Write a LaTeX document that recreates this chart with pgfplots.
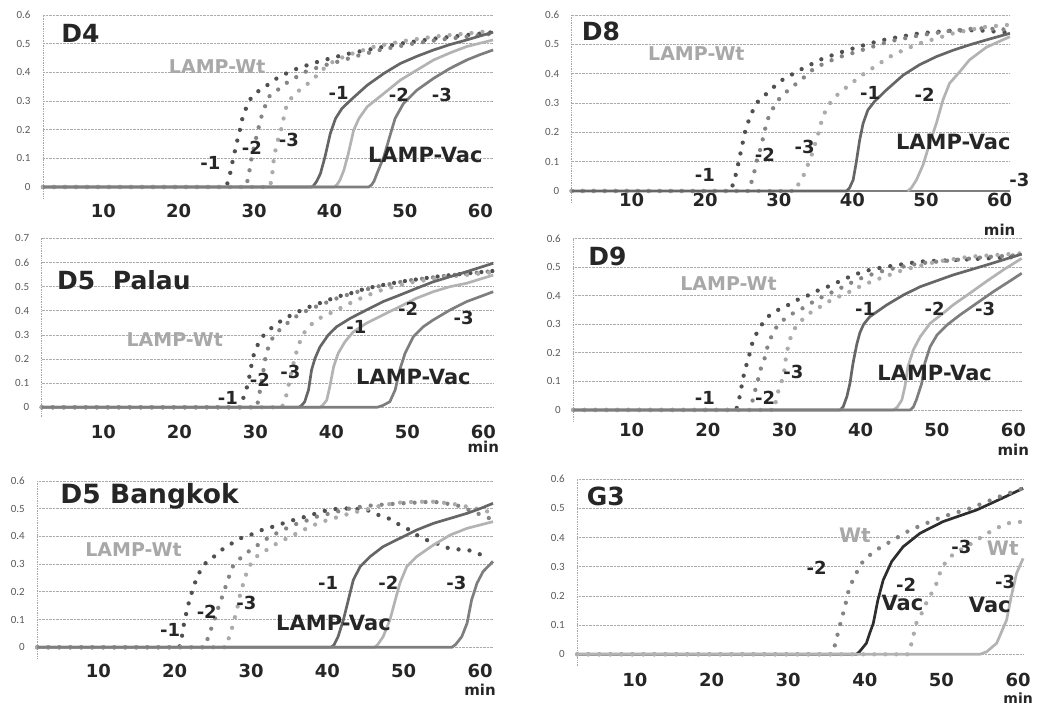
\documentclass[border=0pt]{standalone}
\usepackage{fontspec}
\setmainfont{DejaVu Sans}
\newfontfamily\carl{Carlito}
\usepackage{pgfplots}
\pgfplotsset{compat=1.18}
\definecolor{cDk}{HTML}{505050}
\definecolor{cMd}{HTML}{858585}
\definecolor{cLt}{HTML}{ABABAB}
\definecolor{sDk}{HTML}{666666}
\definecolor{sMd}{HTML}{7E7E7E}
\definecolor{sLt}{HTML}{B3B3B3}
\definecolor{cBk}{HTML}{2E2E2E}
\definecolor{cWt}{HTML}{A8A8A8}
\definecolor{cTxt}{HTML}{262626}
\pgfplotsset{
 panel/.style={scale only axis, clip=false, axis lines*=left,
  x axis line style={draw=none},
  y axis line style={-, draw=gray!70, densely dotted, line width=0.7pt},
  major tick length=0pt, tick style={draw=none},
  ymajorgrids, major grid style={gray!65, densely dotted, line width=0.7pt},
  xtick={10,20,30,40,50,60}, ytick={0,0.1,0.2,0.3,0.4,0.5,0.6},
  /pgf/number format/assume math mode=true,
  xticklabel style={font=\bfseries\fontsize{18}{18}\selectfont, text=cTxt, inner sep=0pt, anchor=north},
  yticklabel style={font=\carl\fontsize{11}{11}\selectfont, text=black!65, xshift=-9pt},
  ymin=-0.04, ymax=0.6},
 wt/.style={line width=4.3pt, line cap=round, dash pattern=on 0pt off 11pt},
 vac/.style={line width=2.7pt, line join=round},
}
\tikzset{lb/.style={font=\bfseries\fontsize{18}{18}\selectfont, text=cTxt, inner sep=0pt},
 ttl/.style={font=\bfseries\fontsize{25}{25}\selectfont, text=cTxt, inner sep=0pt, anchor=west},
 lwt/.style={font=\bfseries\fontsize{19}{19}\selectfont, text=cWt, inner sep=0pt},
 lvac/.style={font=\bfseries\fontsize{21}{21}\selectfont, text=cTxt, inner sep=0pt},
 mn/.style={font=\bfseries\fontsize{15}{15}\selectfont, text=cTxt, inner sep=0pt}}
\begin{document}
\begin{tikzpicture}
\useasboundingbox (0,0) rectangle (1039pt,706pt);
% ---------- D4 ----------
\begin{axis}[panel, at={(43pt,507.5pt)}, anchor=south west, width=450.1pt, height=183.5pt,
 xmin=2, xmax=61.7, xticklabel style={yshift=-5.5pt}]
\addplot[wt, cDk] coordinates {(2,0) (26.3,0) (26.75,0.037) (27.0,0.073) (27.3,0.107) (27.6,0.143) (27.9,0.177) (28.25,0.213) (28.5,0.247) (29.05,0.282) (29.6,0.311) (30.8,0.34) (32.1,0.361) (33.0,0.379) (34.1,0.394) (35.2,0.408) (36.5,0.42) (37.7,0.431) (38.9,0.44) (41,0.455) (43,0.468) (45,0.478) (49.4,0.5) (53.8,0.517) (58.2,0.53) (61.7,0.54)};
\addplot[wt, cMd] coordinates {(2,0) (28.9,0) (29.3,0.04) (29.5,0.08) (29.9,0.13) (30.4,0.186) (30.9,0.24) (31.5,0.285) (32.1,0.32) (33.4,0.344) (34.5,0.367) (35.7,0.385) (36.8,0.402) (38.1,0.414) (39.4,0.425) (41.5,0.44) (44,0.46) (47,0.48) (51,0.5) (55,0.515) (58.5,0.525) (61.7,0.535)};
\addplot[wt, cLt] coordinates {(2,0) (32.1,0) (32.4,0.04) (32.5,0.076) (32.7,0.11) (33.0,0.15) (33.4,0.185) (33.8,0.22) (34.0,0.256) (34.4,0.29) (35.2,0.32) (36.3,0.344) (37.45,0.367) (38.6,0.396) (39.7,0.425) (41,0.445) (43,0.465) (46,0.49) (50,0.51) (54,0.525) (58,0.535) (61.7,0.545)};
\addplot[vac, sDk] coordinates {(2,0) (37.6,0) (37.9,0.005) (38.3,0.02) (38.8,0.047) (39.4,0.105) (40.1,0.186) (40.8,0.239) (41.65,0.274) (42.8,0.303) (45,0.355) (47.2,0.396) (49.4,0.431) (51.6,0.456) (53.8,0.478) (56,0.497) (58.2,0.513) (60,0.527) (61.7,0.54)};
\addplot[vac, sLt] coordinates {(2,0) (40.6,0) (41.0,0.008) (41.4,0.025) (41.9,0.058) (42.5,0.117) (43.2,0.198) (43.9,0.239) (45,0.28) (47.2,0.326) (49.4,0.373) (51.6,0.408) (53.8,0.443) (56,0.468) (58.2,0.49) (61.7,0.513)};
\addplot[vac, sMd] coordinates {(2,0) (45.2,0) (45.6,0.008) (45.9,0.02) (46.3,0.047) (47.2,0.105) (48.1,0.186) (48.7,0.239) (49.8,0.291) (51.6,0.338) (53.8,0.379) (56,0.414) (58.2,0.443) (60,0.462) (61.7,0.478)};
\node[ttl] at (axis cs:4.4,0.536) {D4};
\node[lwt] at (axis cs:25.1,0.42) {LAMP-Wt};
\node[lb] at (axis cs:24.2,0.083) {-1};
\node[lb] at (axis cs:29.7,0.135) {-2};
\node[lb] at (axis cs:34.6,0.164) {-3};
\node[lb] at (axis cs:41.2,0.327) {-1};
\node[lb] at (axis cs:49.2,0.321) {-2};
\node[lb] at (axis cs:54.9,0.321) {-3};
\node[lvac] at (axis cs:52.7,0.112) {LAMP-Vac};
\end{axis}
% ---------- D8 ----------
\begin{axis}[panel, at={(571.7pt,503.3pt)}, anchor=south west, width=438.2pt, height=187.7pt,
 xmin=1.86, xmax=61.4, xticklabel style={yshift=9.7pt}]
\addplot[wt, cDk] coordinates {(1.86,0) (23.5,0) (23.8,0.026) (24.2,0.06) (24.5,0.094) (24.8,0.13) (25.1,0.165) (25.4,0.2) (25.8,0.233) (26.4,0.27) (26.97,0.3) (28.0,0.324) (29.0,0.347) (30.1,0.373) (31.4,0.392) (32.5,0.407) (33.7,0.424) (34.9,0.4375) (36.0,0.452) (37.4,0.464) (38.7,0.475) (40.1,0.486) (42.35,0.503) (44.6,0.517) (49.1,0.5375) (53.7,0.547) (57,0.548) (61.4,0.54)};
\addplot[wt, cMd] coordinates {(1.86,0) (26.0,0) (26.3,0.032) (26.65,0.0625) (26.97,0.1) (27.4,0.134) (27.8,0.174) (28.1,0.208) (28.5,0.245) (29.1,0.276) (29.7,0.305) (30.6,0.327) (31.6,0.352) (32.8,0.373) (33.75,0.395) (34.9,0.42) (36.2,0.435) (38,0.455) (40,0.47) (42.5,0.49) (45,0.51) (49,0.53) (53,0.545) (57,0.555) (61.4,0.55)};
\addplot[wt, cLt] coordinates {(1.86,0) (32.3,0) (32.6,0.02) (33.3,0.049) (33.85,0.083) (34.4,0.117) (34.8,0.151) (35.25,0.185) (35.6,0.22) (36.0,0.253) (36.6,0.2875) (37.6,0.32) (38.7,0.344) (39.9,0.367) (41.0,0.39) (42.35,0.4125) (43.7,0.435) (45.1,0.458) (46.9,0.48) (49.1,0.503) (51.4,0.52) (53.7,0.5375) (55.9,0.549) (58.2,0.56) (61.0,0.566)};
\addplot[vac, sMd] coordinates {(1.86,0) (61.4,0)};
\addplot[vac, sDk] coordinates {(1.86,0) (39.2,0) (39.6,0.01) (40.1,0.0375) (40.5,0.094) (40.99,0.174) (41.45,0.23) (42.1,0.276) (43.0,0.305) (44.6,0.344) (46.9,0.395) (49.1,0.43) (51.4,0.458) (53.7,0.48) (55.9,0.498) (58.2,0.515) (61.4,0.5375)};
\addplot[vac, sLt] coordinates {(47.5,0) (48.0,0.01) (48.7,0.0375) (49.6,0.089) (50.5,0.1625) (51.4,0.23) (52.3,0.31) (53.2,0.367) (54.6,0.407) (55.9,0.4466) (58.2,0.49) (61.4,0.526)};
\node[ttl] at (axis cs:3.2,0.543) {D8};
\node[lwt] at (axis cs:18.8,0.469) {LAMP-Wt};
\node[lb] at (axis cs:19.95,0.0545) {-1};
\node[lb] at (axis cs:28.1,0.123) {-2};
\node[lb] at (axis cs:33.5,0.151) {-3};
\node[lb] at (axis cs:42.4,0.333) {-1};
\node[lb] at (axis cs:49.8,0.327) {-2};
\node[lvac] at (axis cs:53.7,0.168) {LAMP-Vac};
\node[lb] at (axis cs:62.7,0.0375) {-3};
\node[mn] at (axis cs:60,-0.133) {min};
\end{axis}
% ---------- D5 Palau ----------
\begin{axis}[panel, at={(41.7pt,289pt)}, anchor=south west, width=451.5pt, height=178.6pt,
 xmin=1.89, xmax=61.3, ymax=0.7, ytick={0,0.1,0.2,0.3,0.4,0.5,0.6,0.7}, xticklabel style={yshift=-8pt}]
\addplot[wt, cDk] coordinates {(1.89,0) (28.1,0) (28.4,0.037) (28.8,0.072) (29.1,0.11) (29.4,0.155) (29.6,0.2) (30.1,0.244) (30.6,0.279) (31.4,0.31) (32.6,0.341) (33.7,0.365) (34.9,0.385) (36.1,0.403) (37.4,0.42) (38.7,0.434) (39.8,0.447) (41.1,0.461) (42.5,0.472) (44.6,0.493) (46.8,0.507) (49.0,0.52) (53.4,0.54) (57.8,0.555) (61.3,0.565)};
\addplot[wt, cMd] coordinates {(1.89,0) (30.2,0) (30.5,0.05) (30.9,0.12) (31.3,0.2) (31.8,0.26) (32.5,0.3) (33.5,0.33) (35,0.37) (37,0.405) (39,0.43) (41,0.455) (43,0.475) (46,0.5) (50,0.525) (55,0.545) (61.3,0.565)};
\addplot[wt, cLt] coordinates {(1.89,0) (33.5,0) (34,0.04) (34.5,0.11) (35,0.18) (35.5,0.24) (36.2,0.3) (37.2,0.34) (38.5,0.37) (40.5,0.4) (43,0.44) (46,0.48) (50,0.515) (55,0.54) (61.3,0.56)};
\addplot[vac, sDk] coordinates {(1.89,0) (35.7,0) (36.1,0.008) (36.5,0.0235) (37,0.072) (37.4,0.155) (37.85,0.203) (38.5,0.25) (39.6,0.3) (40.7,0.334) (42.5,0.369) (44.6,0.403) (46.8,0.438) (49.0,0.465) (51.2,0.493) (53.4,0.52) (55.6,0.541) (57.8,0.562) (61.3,0.597)};
\addplot[vac, sLt] coordinates {(1.89,0) (38.5,0) (38.9,0.01) (39.4,0.03) (39.8,0.086) (40.3,0.168) (40.9,0.224) (41.8,0.272) (42.9,0.313) (44.6,0.348) (46.8,0.383) (49.0,0.417) (51.2,0.452) (53.4,0.479) (55.6,0.5) (57.8,0.514) (61.3,0.548)};
\addplot[vac, sMd] coordinates {(1.89,0) (46.0,0) (46.8,0.008) (47.7,0.0235) (48.4,0.072) (49.0,0.155) (49.7,0.224) (50.8,0.293) (52.1,0.334) (53.4,0.362) (55.6,0.403) (57.8,0.438) (61.3,0.479)};
\node[ttl] at (axis cs:3.9,0.528) {D5\hspace{0.7em}Palau};
\node[lwt] at (axis cs:19.4,0.279) {LAMP-Wt};
\node[lb] at (axis cs:26.4,0.037) {-1};
\node[lb] at (axis cs:30.6,0.113) {-2};
\node[lb] at (axis cs:34.6,0.148) {-3};
\node[lb] at (axis cs:43.3,0.334) {-1};
\node[lb] at (axis cs:50.1,0.41) {-2};
\node[lb] at (axis cs:57.4,0.369) {-3};
\node[lvac] at (axis cs:50.8,0.127) {LAMP-Vac};
\node[mn] at (axis cs:60,-0.164) {min};
\end{axis}
% ---------- D9 ----------
\begin{axis}[panel, at={(573.3pt,284.6pt)}, anchor=south west, width=448.4pt, height=183pt,
 xmin=2.36, xmax=61.1, xticklabel style={yshift=-2pt}]
\addplot[wt, cDk] coordinates {(2.36,0) (23.7,0) (24.0,0.029) (24.3,0.065) (24.5,0.099) (24.85,0.14) (25.2,0.172) (25.6,0.21) (25.9,0.245) (26.5,0.274) (27.2,0.305) (28.0,0.329) (29.2,0.35) (30.5,0.367) (31.7,0.385) (32.8,0.396) (34.0,0.414) (35.2,0.425) (36.4,0.44) (37.7,0.455) (39.0,0.472) (41.2,0.49) (43.4,0.501) (47.8,0.519) (52.1,0.524) (56.5,0.53) (61.1,0.536)};
\addplot[wt, cMd] coordinates {(2.36,0) (25.6,0) (25.9,0.04) (26.4,0.09) (27.0,0.152) (27.5,0.186) (27.8,0.221) (28.3,0.256) (29.0,0.291) (29.9,0.315) (30.7,0.332) (32.05,0.35) (33.1,0.367) (34.2,0.385) (35.5,0.402) (36.9,0.42) (38.2,0.437) (39.5,0.455) (41.2,0.472) (43.4,0.49) (47.8,0.513) (52.1,0.524) (56.5,0.535) (61.1,0.542)};
\addplot[wt, cLt] coordinates {(2.36,0) (28.7,0) (29.0,0.047) (29.4,0.082) (29.9,0.117) (30.1,0.163) (30.3,0.198) (30.7,0.245) (31.4,0.286) (32.5,0.32) (33.6,0.344) (34.7,0.361) (35.8,0.379) (37.1,0.396) (38.6,0.414) (40.3,0.437) (42.5,0.46) (45.6,0.49) (50.0,0.519) (54.3,0.536) (61.1,0.548)};
\addplot[vac, sDk] coordinates {(2.36,0) (37.3,0) (37.7,0.01) (38.2,0.047) (38.6,0.093) (39.0,0.163) (39.5,0.23) (39.9,0.27) (40.4,0.3) (41.2,0.326) (43.4,0.367) (45.6,0.402) (47.8,0.431) (50,0.452) (52.1,0.472) (56.5,0.507) (61.1,0.545)};
\addplot[vac, sLt] coordinates {(2.36,0) (44.3,0) (44.8,0.01) (45.4,0.035) (45.8,0.082) (46.2,0.152) (46.9,0.21) (47.8,0.256) (49.1,0.303) (50.8,0.338) (52.1,0.367) (54.3,0.408) (56.5,0.45) (58.7,0.49) (61.1,0.53)};
\addplot[vac, sMd] coordinates {(2.36,0) (46.5,0) (46.9,0.01) (47.3,0.035) (48.0,0.093) (48.4,0.163) (49.1,0.221) (50.0,0.262) (51.3,0.297) (53.0,0.332) (55.2,0.373) (57.4,0.414) (59.5,0.45) (61.1,0.478)};
\node[ttl] at (axis cs:4.3,0.536) {D9};
\node[lwt] at (axis cs:22.7,0.443) {LAMP-Wt};
\node[lb] at (axis cs:19.6,0.041) {-1};
\node[lb] at (axis cs:27.5,0.041) {-2};
\node[lb] at (axis cs:31.2,0.134) {-3};
\node[lb] at (axis cs:40.6,0.355) {-1};
\node[lb] at (axis cs:49.7,0.355) {-2};
\node[lb] at (axis cs:56.3,0.355) {-3};
\node[lvac] at (axis cs:49.7,0.128) {LAMP-Vac};
\node[mn] at (axis cs:60,-0.14) {min};
\end{axis}
% ---------- D5 Bangkok ----------
\begin{axis}[panel, at={(37.3pt,47.6pt)}, anchor=south west, width=455.7pt, height=177.5pt,
 xmin=2.0, xmax=61.7, xticklabel style={yshift=-5.6pt}]
\addplot[wt, cDk] coordinates {(2,0) (20.6,0) (20.9,0.026) (21.05,0.0625) (21.35,0.101) (21.7,0.147) (22.1,0.183) (22.4,0.215) (22.9,0.249) (23.5,0.285) (24.4,0.315) (25.5,0.333) (26.4,0.357) (27.5,0.375) (28.6,0.393) (29.9,0.405) (31.2,0.421) (32.4,0.431) (33.6,0.441) (34.8,0.453) (36.4,0.465) (38.6,0.483) (40.3,0.4975) (43.0,0.501) (45.2,0.495) (46.7,0.477) (48.0,0.465) (49.1,0.447) (50.4,0.429) (51.7,0.405) (53.0,0.387) (54.3,0.375) (55.9,0.357) (57.2,0.353) (58.7,0.349) (60.2,0.333)};
\addplot[wt, cMd] coordinates {(2,0) (23.9,0) (24.2,0.02) (24.5,0.05) (25.1,0.087) (25.5,0.125) (25.9,0.159) (26.4,0.195) (26.8,0.231) (27.2,0.261) (27.7,0.297) (28.6,0.321) (29.65,0.345) (30.7,0.365) (31.8,0.387) (32.9,0.405) (34.2,0.423) (35.5,0.441) (36.9,0.453) (38.6,0.471) (40.8,0.486) (43.0,0.501) (45.2,0.51) (49.5,0.519) (53.9,0.525) (56.9,0.513) (59.1,0.489) (61.7,0.46)};
\addplot[wt, cLt] coordinates {(2,0) (26.7,0) (27.0,0.026) (27.5,0.068) (27.9,0.11) (28.3,0.153) (28.6,0.195) (29.0,0.231) (29.4,0.267) (30.0,0.303) (30.7,0.327) (32.05,0.351) (33.4,0.375) (34.7,0.393) (36.0,0.411) (37.3,0.429) (39.0,0.45) (40.8,0.465) (43.0,0.483) (45.2,0.4975) (47.3,0.513) (49.5,0.522) (51.7,0.525) (53.9,0.525) (56.1,0.519) (58.3,0.507) (60.4,0.495) (61.7,0.483)};
\addplot[vac, sDk] coordinates {(2,0) (40.5,0) (40.9,0.01) (41.4,0.038) (42.1,0.099) (42.75,0.171) (43.4,0.243) (44.3,0.291) (45.6,0.327) (47.3,0.363) (49.5,0.393) (51.7,0.423) (53.9,0.447) (56.1,0.465) (58.3,0.483) (60,0.5) (61.7,0.519)};
\addplot[vac, sLt] coordinates {(2,0) (46.2,0) (46.6,0.01) (47.3,0.038) (48.2,0.099) (48.9,0.171) (49.5,0.231) (50.4,0.291) (51.7,0.327) (53.9,0.369) (56.1,0.405) (58.3,0.429) (61.7,0.453)};
\addplot[vac, sMd] coordinates {(2,0) (56.3,0) (56.8,0.01) (57.6,0.038) (58.3,0.0865) (58.9,0.171) (59.6,0.231) (60.4,0.273) (61.7,0.31)};
\node[ttl, font=\bfseries\fontsize{26.5}{26.5}\selectfont] at (axis cs:5.0,0.543) {D5 Bangkok};
\node[lwt] at (axis cs:14.6,0.351) {LAMP-Wt};
\node[lb] at (axis cs:19.4,0.0625) {-1};
\node[lb] at (axis cs:24.2,0.129) {-2};
\node[lb] at (axis cs:29.4,0.159) {-3};
\node[lb] at (axis cs:40.1,0.231) {-1};
\node[lb] at (axis cs:48.0,0.231) {-2};
\node[lb] at (axis cs:56.9,0.231) {-3};
\node[lvac] at (axis cs:40.8,0.0865) {LAMP-Vac};
\node[mn] at (axis cs:60,-0.154) {min};
\end{axis}
% ---------- G3 ----------
\begin{axis}[panel, at={(577.3pt,40pt)}, anchor=south west, width=445.8pt, height=186.7pt,
 xmin=2.48, xmax=60.65, xticklabel style={yshift=-7pt}]
\addplot[vac, cBk] coordinates {(2.48,0) (38.9,0) (39.3,0.009) (40.2,0.038) (40.6,0.07) (41.1,0.106) (41.7,0.186) (42.4,0.255) (43.5,0.318) (45.0,0.369) (47.2,0.415) (50.2,0.455) (54.6,0.495) (57.5,0.53) (60.65,0.569)};
\addplot[wt, cMd] coordinates {(2.48,0) (35.7,0) (36.1,0.032) (36.7,0.095) (37.4,0.163) (38.0,0.232) (38.7,0.266) (39.35,0.306) (40.4,0.335) (41.5,0.358) (43.7,0.392) (45.9,0.426) (48.0,0.449) (50.2,0.472) (53.7,0.5) (55.9,0.523) (58.0,0.545) (60.65,0.569)};
\addplot[wt, cLt] coordinates {(2.48,0) (45.6,0) (46.1,0.038) (46.7,0.106) (47.4,0.14) (48.0,0.175) (48.7,0.209) (49.35,0.243) (50.0,0.295) (50.9,0.329) (52.0,0.352) (53.3,0.369) (54.6,0.392) (56.7,0.426) (58.5,0.449) (60.65,0.455)};
\addplot[vac, sLt] coordinates {(2.48,0) (55.0,0) (55.9,0.009) (57.2,0.038) (58.5,0.118) (59.1,0.198) (59.8,0.278) (60.65,0.329)};
\node[ttl] at (axis cs:3.7,0.54) {G3};
\node[lwt, font=\bfseries\fontsize{20}{20}\selectfont] at (axis cs:38.7,0.409) {Wt};
\node[lb] at (axis cs:33.7,0.298) {-2};
\node[lb] at (axis cs:45.4,0.238) {-2};
\node[lvac] at (axis cs:44.9,0.175) {Vac};
\node[lb] at (axis cs:52.6,0.369) {-3};
\node[lwt, font=\bfseries\fontsize{20}{20}\selectfont] at (axis cs:58.0,0.363) {Wt};
\node[lb] at (axis cs:58.3,0.249) {-3};
\node[lvac] at (axis cs:56.3,0.169) {Vac};
\node[mn, font=\bfseries\fontsize{14}{14}\selectfont] at (axis cs:60,-0.15) {min};
\end{axis}
\end{tikzpicture}
\end{document}
